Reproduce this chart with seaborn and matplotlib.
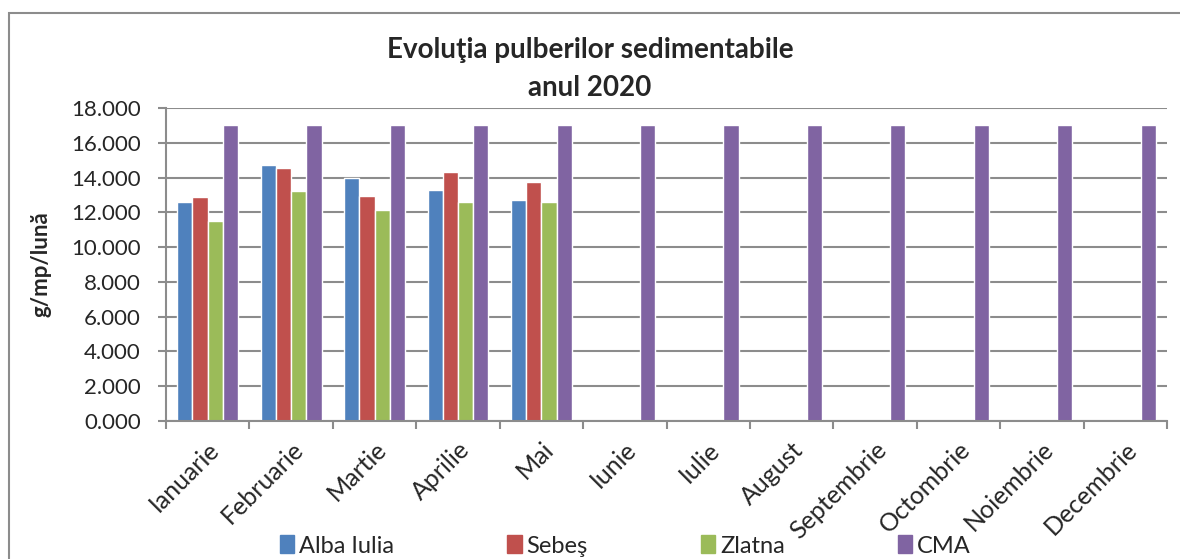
import seaborn as sns
import matplotlib.pyplot as plt
import matplotlib.patches as mpatches
import pandas as pd

sns.set_theme(style="white")
plt.rcParams["font.family"] = ["Lato", "DejaVu Sans"]

months = ["Ianuarie", "Februarie", "Martie", "Aprilie", "Mai", "Iunie",
          "Iulie", "August", "Septembrie", "Octombrie", "Noiembrie", "Decembrie"]
stations = ["Alba Iulia", "Sebeş", "Zlatna", "CMA"]

alba_iulia = [12.58, 14.70, 13.98, 13.29, 12.72]
sebes = [12.87, 14.55, 12.93, 14.30, 13.73]
zlatna = [11.53, 13.25, 12.14, 12.58, 12.60]
cma = [17.0] * 12

colors = ["#4F81BD", "#C0504D", "#9BBB59", "#8064A2"]

rows = []
for name, vals in zip(stations, [alba_iulia, sebes, zlatna, cma]):
    for m, v in zip(months, vals):
        rows.append({"luna": m, "statie": name, "valoare": v})
df = pd.DataFrame(rows)

fig = plt.figure(figsize=(11.8, 5.59), dpi=100)
ax = fig.add_axes([166 / 1180, 1 - 421 / 559, (1167 - 166) / 1180, (421 - 108) / 559])

sns.barplot(data=df, x="luna", y="valoare", hue="statie", order=months,
            hue_order=stations, palette=colors, width=0.73, gap=0,
            errorbar=None, saturation=1, ax=ax, legend=False)

ax.set_ylim(0, 18)
ax.set_xlim(-0.5, 11.5)
ax.set_yticks(range(0, 19, 2))
ax.set_yticklabels([f"{v:.3f}" for v in range(0, 19, 2)], fontsize=16)
ax.yaxis.grid(True, color="#8c8c8c", linewidth=1.5)
ax.set_axisbelow(True)
for s in ["top", "right"]:
    ax.spines[s].set_visible(False)
for s in ["left", "bottom"]:
    ax.spines[s].set_color("#8c8c8c")
    ax.spines[s].set_linewidth(1.5)

# ticks at category boundaries
ax.set_xticks([i - 0.5 for i in range(13)], minor=False)
ax.set_xticklabels([])
ax.set_xticks(range(12), minor=True)
ax.set_xticklabels(months, minor=True, rotation=45, ha="right",
                   rotation_mode="anchor", fontsize=18)
ax.tick_params(axis="x", which="minor", length=0, pad=12)
ax.tick_params(axis="x", which="major", length=6, width=1.5, color="#8c8c8c",
               direction="out", bottom=True)
ax.tick_params(axis="y", length=6, width=1.5, color="#8c8c8c",
               direction="out", left=True, pad=12)

ax.set_xlabel("")
ax.set_ylabel("g/mp/lună", fontsize=16, fontweight="bold", labelpad=14)

fig.text(0.5, 1 - 50 / 559, "Evoluţia pulberilor sedimentabile", ha="center",
         va="center", fontsize=20, fontweight="bold")
fig.text(0.5, 1 - 88 / 559, "anul 2020", ha="center", va="center",
         fontsize=20, fontweight="bold")

handles = [mpatches.Patch(color=c, label=s) for c, s in zip(colors, stations)]
fig.legend(handles=handles, loc="center", bbox_to_anchor=(0.530, 1 - 546 / 559),
           ncol=4, frameon=False, fontsize=17, handlelength=0.6,
           handleheight=0.8, handletextpad=0.2, columnspacing=4.8)

# outer chart border
fig.patches.append(mpatches.Rectangle((9 / 1180, -0.1), 1.2, 1 - 13 / 559 + 0.1,
                                      transform=fig.transFigure, fill=False,
                                      edgecolor="#8c8c8c", linewidth=1.5))

fig.savefig("out.png", dpi=100)
